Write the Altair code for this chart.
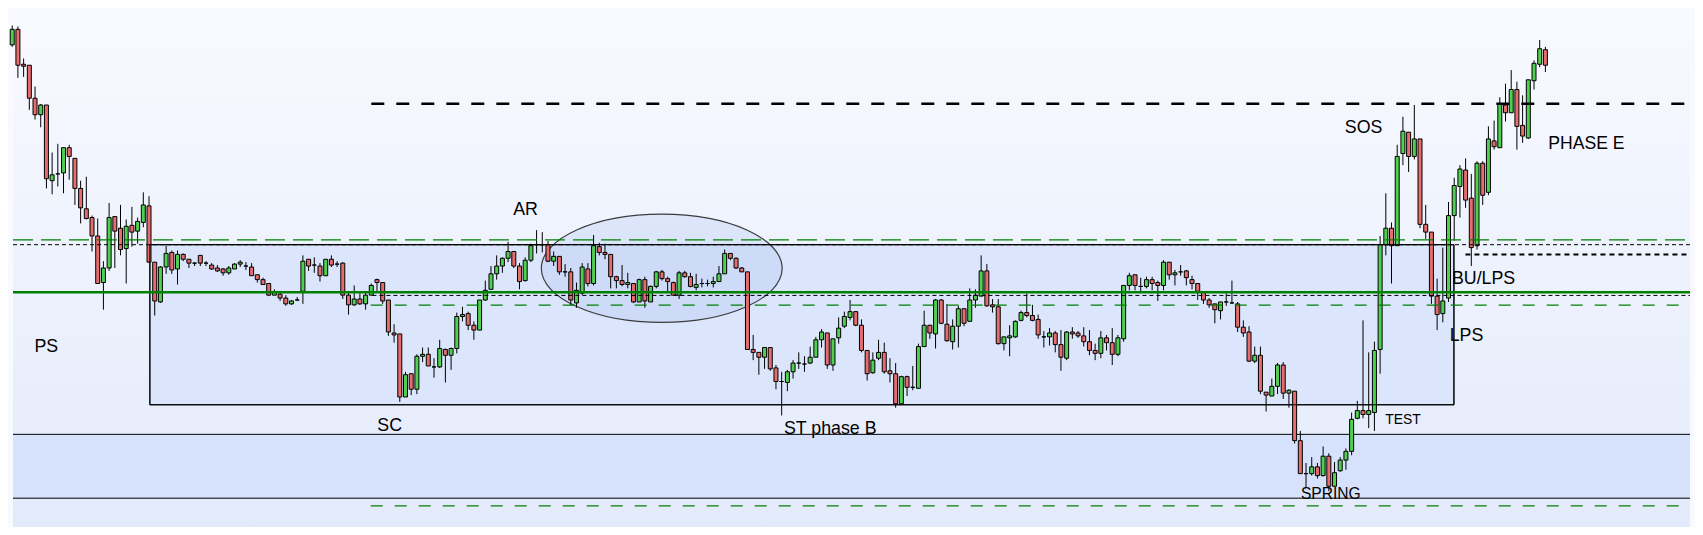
import altair as alt
import pandas as pd

# ---------------- candle data (price units, one entry per bar) ----------------
OPEN = [
    497, 513, 477, 476, 442, 425, 435, 357, 364, 365,
    391, 380, 349, 328, 319, 300, 252, 267, 320, 308,
    287, 311, 305, 314, 331, 273, 232, 268, 283, 266,
    281, 276, 272, 280, 272, 270, 267, 266, 262, 266,
    271, 269, 268, 260, 255, 251, 239, 240, 236, 230,
    234, 243, 276, 270, 269, 259, 276, 271, 272, 239,
    229, 235, 230, 239, 255, 252, 234, 200, 199, 134,
    158, 142, 176, 178, 165, 165, 183, 177, 184, 217,
    220, 208, 203, 234, 245, 261, 269, 277, 284, 269,
    254, 275, 291, 291, 291, 274, 279, 263, 263, 231,
    241, 266, 251, 289, 283, 281, 258, 254, 250, 251,
    232, 255, 232, 248, 263, 256, 252, 239, 262, 258,
    247, 251, 251, 251, 253, 261, 282, 277, 267, 263,
    183, 180, 175, 185, 164, 150, 149, 160, 169, 168,
    169, 175, 193, 200, 167, 195, 207, 216, 222, 208,
    182, 159, 174, 180, 161, 158, 127, 155, 144, 143,
    186, 208, 199, 234, 209, 191, 207, 225, 212, 234,
    238, 264, 229, 227, 189, 195, 196, 213, 221, 218,
    214, 196, 196, 200, 188, 174, 201, 200, 197, 191,
    182, 179, 195, 190, 178, 194, 249, 260, 248, 248,
    255, 252, 249, 273, 260, 263, 264, 255, 251, 242,
    234, 230, 223, 232, 231, 230, 206, 201, 171, 177,
    139, 135, 145, 167, 138, 140, 89, 55, 55, 62,
    53, 73, 42, 58, 69, 78, 112, 120, 116, 118,
    183, 291, 308, 290, 385, 407, 382, 400, 312, 304,
    238, 220, 236, 321, 351, 368, 339, 290, 375, 345,
    398, 391, 435, 427, 451, 414, 401, 460, 477, 492,
]
HIGH = [
    517, 516, 483, 476, 454, 436, 435, 386, 395, 391,
    394, 380, 357, 361, 321, 318, 274, 334, 320, 332,
    317, 330, 319, 345, 341, 273, 269, 290, 285, 285,
    282, 276, 273, 280, 274, 272, 270, 267, 269, 272,
    275, 273, 272, 260, 257, 251, 245, 242, 239, 234,
    237, 280, 276, 278, 272, 276, 280, 274, 273, 242,
    249, 241, 242, 251, 256, 252, 234, 209, 199, 160,
    158, 178, 185, 185, 174, 193, 184, 185, 221, 227,
    222, 212, 234, 254, 269, 280, 278, 294, 284, 272,
    278, 292, 306, 304, 295, 284, 279, 271, 267, 252,
    272, 272, 301, 293, 292, 281, 259, 270, 262, 251,
    256, 258, 249, 264, 265, 258, 253, 264, 264, 262,
    261, 256, 255, 258, 269, 286, 282, 278, 268, 263,
    198, 180, 185, 185, 167, 160, 162, 172, 180, 176,
    186, 196, 204, 200, 194, 216, 222, 234, 222, 214,
    182, 180, 193, 190, 174, 169, 156, 156, 166, 189,
    223, 208, 235, 235, 230, 214, 228, 225, 246, 245,
    280, 271, 235, 235, 196, 208, 213, 223, 241, 229,
    219, 202, 205, 202, 203, 202, 206, 202, 206, 203,
    189, 202, 198, 205, 198, 249, 262, 260, 257, 258,
    258, 254, 275, 273, 265, 270, 265, 259, 251, 243,
    236, 230, 232, 241, 254, 232, 213, 207, 186, 186,
    139, 153, 169, 170, 142, 140, 99, 66, 72, 66,
    83, 76, 67, 72, 81, 118, 130, 213, 180, 191,
    300, 344, 314, 394, 423, 407, 435, 400, 332, 304,
    256, 288, 335, 360, 373, 380, 364, 377, 377, 413,
    419, 443, 457, 471, 459, 445, 461, 481, 502, 495,
]
LOW = [
    495, 463, 464, 430, 420, 412, 349, 343, 351, 344,
    358, 332, 313, 317, 284, 251, 224, 264, 267, 280,
    251, 289, 292, 309, 273, 218, 231, 261, 261, 250,
    274, 267, 269, 269, 269, 265, 263, 259, 260, 266,
    268, 265, 259, 252, 250, 238, 239, 233, 228, 229,
    233, 230, 264, 262, 253, 259, 268, 268, 235, 219,
    228, 229, 224, 239, 243, 230, 197, 190, 129, 134,
    136, 137, 170, 166, 154, 164, 149, 162, 179, 212,
    203, 193, 203, 233, 245, 255, 262, 273, 267, 245,
    253, 273, 282, 283, 273, 269, 260, 258, 228, 226,
    239, 248, 249, 280, 276, 246, 246, 248, 246, 231,
    232, 226, 232, 246, 254, 243, 239, 235, 257, 247,
    244, 247, 248, 247, 253, 261, 275, 266, 263, 183,
    172, 157, 163, 161, 142, 115, 140, 153, 163, 160,
    168, 175, 185, 163, 161, 189, 205, 213, 207, 180,
    151, 158, 172, 158, 149, 123, 126, 135, 141, 143,
    186, 194, 184, 209, 191, 183, 185, 207, 212, 226,
    238, 227, 221, 188, 182, 176, 195, 212, 216, 212,
    194, 185, 187, 180, 161, 172, 194, 195, 186, 177,
    172, 174, 182, 167, 176, 191, 244, 244, 241, 246,
    244, 233, 244, 255, 249, 259, 249, 245, 234, 230,
    226, 210, 214, 228, 230, 201, 196, 170, 169, 137,
    119, 135, 137, 132, 123, 86, 55, 41, 53, 50,
    52, 37, 42, 57, 59, 74, 111, 112, 102, 99,
    158, 280, 251, 290, 373, 366, 379, 308, 297, 230,
    203, 211, 232, 295, 319, 329, 269, 286, 332, 342,
    389, 391, 418, 427, 389, 396, 400, 451, 474, 469,
]
CLOSE = [
    513, 476, 475, 442, 425, 435, 359, 363, 364, 391,
    382, 349, 329, 318, 300, 251, 267, 319, 305, 286,
    310, 304, 315, 332, 273, 233, 268, 282, 265, 281,
    276, 272, 272, 272, 272, 266, 264, 262, 267, 271,
    273, 269, 259, 255, 250, 239, 242, 236, 230, 233,
    234, 274, 269, 270, 259, 276, 270, 271, 239, 229,
    235, 230, 239, 249, 252, 233, 201, 198, 134, 157,
    142, 176, 178, 166, 165, 184, 177, 184, 217, 219,
    208, 203, 234, 244, 261, 269, 277, 284, 269, 253,
    275, 290, 291, 291, 274, 279, 263, 263, 234, 244,
    268, 251, 290, 283, 281, 258, 254, 250, 252, 232,
    255, 233, 248, 263, 256, 253, 239, 262, 258, 248,
    250, 251, 251, 253, 261, 282, 277, 267, 263, 183,
    180, 175, 185, 163, 150, 150, 160, 169, 169, 168,
    175, 193, 201, 167, 194, 205, 217, 222, 208, 182,
    158, 172, 180, 160, 158, 127, 155, 144, 144, 186,
    208, 200, 234, 210, 192, 207, 225, 210, 234, 239,
    264, 228, 227, 189, 196, 197, 212, 221, 218, 213,
    198, 196, 200, 188, 175, 201, 199, 197, 191, 182,
    179, 195, 190, 178, 195, 249, 259, 249, 248, 255,
    251, 249, 273, 260, 262, 263, 257, 251, 243, 234,
    229, 224, 232, 232, 231, 206, 200, 171, 177, 140,
    136, 145, 167, 138, 141, 89, 55, 55, 62, 53,
    73, 42, 56, 69, 78, 111, 120, 116, 120, 182,
    291, 308, 290, 382, 408, 382, 400, 312, 304, 238,
    219, 233, 321, 352, 369, 337, 288, 375, 342, 400,
    392, 436, 427, 451, 413, 403, 461, 478, 493, 476,
]

# ---------------- annotation levels (price) and bar positions ----------------
X_MIN, X_MAX = 0.1365, 294.37          # visible bar-index range
Y_MIN, Y_MAX = 0.0, 535.0              # visible price range

LEVEL_TOP_DASH = 436.3                 # black dashed resistance (from bar 63)
LEVEL_UPPER_GREEN = 296.0              # green dashed (full width)
LEVEL_DOT_UPPER = 291.0                # black dotted (full width) = box top
LEVEL_BU_DASH = 281.0                  # black dashed after BU/LPS
LEVEL_SOLID = 242.0                    # solid green level
LEVEL_DOT_LOWER = 238.7                # black dotted (from bar 63)
LEVEL_LOWER_GREEN = 228.7              # green dashed (from bar 63)
BOX_BARS = [24.15, 252.95]
BOX_LEVELS = [126.0, 291.0]
BAND_LEVELS = [29.7, 95.5]
LEVEL_BOTTOM_GREEN = 21.7

ELLIPSE_BAR, ELLIPSE_LEVEL = 113.96, 266.7

LABELS = ["PS", "SC", "AR", "ST phase B", "SPRING", "TEST", "SOS", "PHASE E", "BU/LPS", "LPS"]
LABEL_BAR = [3.89, 64.06, 87.9, 135.4, 226.1, 240.9, 233.8, 269.5, 252.6, 252.2]
LABEL_LEVEL = [180, 99, 322, 96.3, 29, 106, 405.7, 390, 250, 192]
LABEL_SIZE = [17.8, 17.8, 17.8, 17.8, 15.6, 13.9, 17.8, 17.6, 17.8, 17.8]

# ---------------- chart ----------------
W, H = 1687, 519
GREEN, RED = "#50d050", "#e56d6d"
LINE_GREEN = "#008000"

df = pd.DataFrame({"bar": list(range(len(OPEN))), "open": OPEN, "high": HIGH,
                   "low": LOW, "close": CLOSE})
df["dir"] = ["up" if c > o else ("down" if c < o else "flat") for o, c in zip(OPEN, CLOSE)]

xs = alt.Scale(domain=[X_MIN, X_MAX], nice=False, zero=False)
ys = alt.Scale(domain=[Y_MIN, Y_MAX], nice=False, zero=False)


def rect_layer(x0, x1, y0, y1, **mark):
    d = pd.DataFrame({"x0": [x0], "x1": [x1], "y0": [y0], "y1": [y1]})
    return alt.Chart(d).mark_rect(**mark).encode(
        x=alt.X("x0:Q", scale=xs, axis=None), x2="x1:Q",
        y=alt.Y("y0:Q", scale=ys, axis=None), y2="y1:Q")


def hline(x0, x1, y, **mark):
    d = pd.DataFrame({"x0": [x0], "x1": [x1], "y": [y]})
    return alt.Chart(d).mark_rule(**mark).encode(
        x=alt.X("x0:Q", scale=xs, axis=None), x2="x1:Q",
        y=alt.Y("y:Q", scale=ys, axis=None))


bg = rect_layer(X_MIN, X_MAX, Y_MIN, Y_MAX, fill=alt.Gradient(
    gradient="linear", x1=0, x2=0, y1=0, y2=1,
    stops=[alt.GradientStop(color="#f8faff", offset=0),
           alt.GradientStop(color="#e3eafb", offset=1)]))

band = rect_layer(X_MIN, X_MAX, BAND_LEVELS[0], BAND_LEVELS[1], fill="#d6e1fb")
band_top = hline(X_MIN, X_MAX, BAND_LEVELS[1], color="black", strokeWidth=1)
band_bot = hline(X_MIN, X_MAX, BAND_LEVELS[0], color="black", strokeWidth=1)

box = rect_layer(BOX_BARS[0], BOX_BARS[1], BOX_LEVELS[0], BOX_LEVELS[1],
                 fill="#dbe5fc", stroke="black", strokeWidth=1)

# ellipse drawn as a custom symbol
rx_px = 120.4
ry_px = 54.1
r = ry_px / rx_px
k = 0.5523
ell_path = (f"M -1 0 C -1 {-k*r:.4f} {-k} {-r:.4f} 0 {-r:.4f} "
            f"C {k} {-r:.4f} 1 {-k*r:.4f} 1 0 "
            f"C 1 {k*r:.4f} {k} {r:.4f} 0 {r:.4f} "
            f"C {-k} {r:.4f} -1 {k*r:.4f} -1 0 Z")
ell = alt.Chart(pd.DataFrame({"x": [ELLIPSE_BAR], "y": [ELLIPSE_LEVEL]})).mark_point(
    shape=ell_path, size=(2 * rx_px) ** 2, filled=False, fill="#9db6ee",
    fillOpacity=0.22, stroke="#3c3c3c", strokeWidth=1.2, opacity=1
).encode(x=alt.X("x:Q", scale=xs, axis=None), y=alt.Y("y:Q", scale=ys, axis=None))

base = alt.Chart(df)
wicks = base.mark_rule(color="black", strokeWidth=1).encode(
    x=alt.X("bar:Q", scale=xs, axis=None),
    y=alt.Y("low:Q", scale=ys, axis=None), y2="high:Q")
bodies = base.mark_bar(size=4, stroke="black", strokeWidth=1).encode(
    x=alt.X("bar:Q", scale=xs, axis=None),
    y=alt.Y("open:Q", scale=ys, axis=None), y2="close:Q",
    fill=alt.Fill("dir:N", scale=alt.Scale(domain=["up", "down", "flat"],
                                           range=[GREEN, RED, "black"]), legend=None))

lines = [
    hline(63.0, X_MAX, LEVEL_TOP_DASH, color="black", strokeWidth=2.5, strokeDash=[13, 12]),
    hline(X_MIN, X_MAX, LEVEL_UPPER_GREEN, color=LINE_GREEN, strokeWidth=1.2, strokeDash=[20, 8]),
    hline(X_MIN, X_MAX, LEVEL_DOT_UPPER, color="black", strokeWidth=1, strokeDash=[4, 3]),
    hline(254.97, X_MAX, LEVEL_BU_DASH, color="black", strokeWidth=2, strokeDash=[5, 4]),
    hline(X_MIN, X_MAX, LEVEL_SOLID, color=LINE_GREEN, strokeWidth=2.5),
    hline(63.2, X_MAX, LEVEL_DOT_LOWER, color="black", strokeWidth=1, strokeDash=[4, 3]),
    hline(62.9, X_MAX, LEVEL_LOWER_GREEN, color=LINE_GREEN, strokeWidth=1.2, strokeDash=[12, 12]),
    hline(62.9, X_MAX, LEVEL_BOTTOM_GREEN, color=LINE_GREEN, strokeWidth=1.2, strokeDash=[12, 12]),
]
box_edge = rect_layer(BOX_BARS[0], BOX_BARS[1], BOX_LEVELS[0], BOX_LEVELS[1],
                      fill="transparent", stroke="black", strokeWidth=1)

labels = alt.Chart(pd.DataFrame({"label": LABELS, "x": LABEL_BAR, "y": LABEL_LEVEL,
                                 "size": LABEL_SIZE})).mark_text(
    align="left", baseline="alphabetic", font="Liberation Sans", color="black"
).encode(x=alt.X("x:Q", scale=xs, axis=None), y=alt.Y("y:Q", scale=ys, axis=None),
         text="label:N", size=alt.Size("size:Q", scale=None))

chart = alt.layer(bg, band, band_top, band_bot, box, ell, wicks, bodies, box_edge,
                  *lines, labels).properties(
    width=W, height=H, padding=0, background="#f8faff",
    autosize=alt.AutoSizeParams(type="none")
).configure_view(strokeWidth=0)

chart.save("out.html", embed_options={"renderer": "svg", "actions": False})
